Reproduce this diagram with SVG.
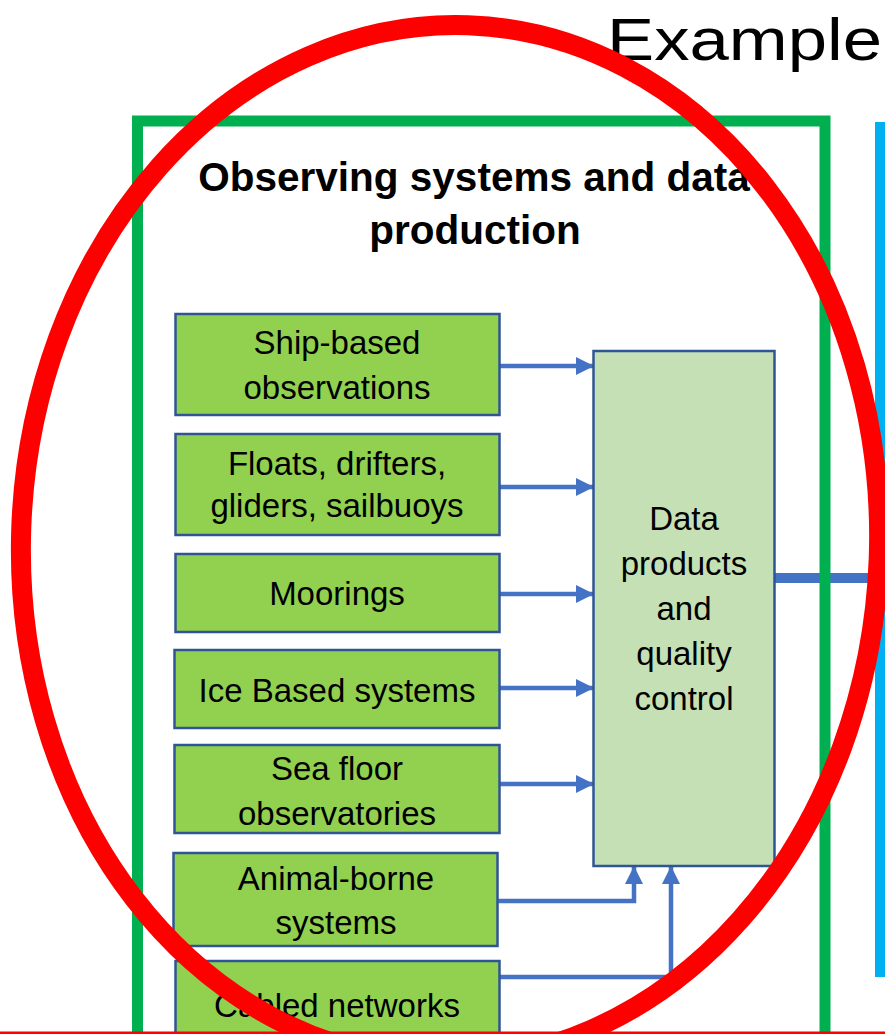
<svg xmlns="http://www.w3.org/2000/svg" width="885" height="1034" viewBox="0 0 885 1034">
<defs>
<style>
.box{fill:#92D050;stroke:#2F5597;stroke-width:2.5}
.dp{fill:#C5E0B4;stroke:#2F5597;stroke-width:2.5}
.t{font-family:"Liberation Sans",Arial,sans-serif;font-size:33px;fill:#000;text-anchor:middle}
.h{font-family:"Liberation Sans",Arial,sans-serif;font-size:40.5px;font-weight:bold;fill:#000;text-anchor:middle}
.c{fill:none;stroke:#4472C4;stroke-width:4.5}
</style>
<marker id="ah" markerUnits="userSpaceOnUse" markerWidth="18" markerHeight="18" refX="17" refY="9" orient="auto">
<path d="M0,0 L18,9 L0,18 Z" fill="#4472C4"/>
</marker>
</defs>
<rect width="885" height="1034" fill="#fff"/>
<text x="607" y="60" font-family="'Liberation Sans',Arial,sans-serif" font-size="60" textLength="275" lengthAdjust="spacingAndGlyphs" fill="#000">Example</text>
<rect x="875" y="122" width="10" height="855" fill="#00B0F0"/>
<g id="connectors">
<path class="c" d="M500,366 H593" marker-end="url(#ah)"/>
<path class="c" d="M500,487 H593" marker-end="url(#ah)"/>
<path class="c" d="M500,594 H593" marker-end="url(#ah)"/>
<path class="c" d="M500,688 H593" marker-end="url(#ah)"/>
<path class="c" d="M500,784 H593" marker-end="url(#ah)"/>
<path class="c" d="M497,901 H634 V867" marker-end="url(#ah)"/>
<path class="c" d="M499,977 H671 V867" marker-end="url(#ah)"/>
<path d="M775,578 H878" fill="none" stroke="#4472C4" stroke-width="10"/>
</g>
<g id="frame">
<rect x="137.5" y="121" width="687.5" height="1000" fill="none" stroke="#00B050" stroke-width="11"/>
<text class="h" x="474" y="191">Observing systems and data</text>
<text class="h" x="475" y="244">production</text>
</g>
<g id="ship"><rect class="box" x="175.5" y="314" width="324" height="101"/>
<text class="t" x="337" y="354">Ship-based</text><text class="t" x="337" y="399">observations</text></g>
<g id="floats"><rect class="box" x="175.5" y="434" width="324" height="101"/>
<text class="t" x="337" y="475">Floats, drifters,</text><text class="t" x="337" y="517">gliders, sailbuoys</text></g>
<g id="moorings"><rect class="box" x="175.5" y="554" width="324" height="78"/>
<text class="t" x="337" y="605">Moorings</text></g>
<g id="ice"><rect class="box" x="174.5" y="650" width="325" height="78"/>
<text class="t" x="337" y="702">Ice Based systems</text></g>
<g id="seafloor"><rect class="box" x="174.5" y="745" width="325" height="88"/>
<text class="t" x="337" y="780">Sea floor</text><text class="t" x="337" y="825">observatories</text></g>
<g id="animal"><rect class="box" x="173.5" y="853" width="324" height="93"/>
<text class="t" x="336" y="890">Animal-borne</text><text class="t" x="336" y="934">systems</text></g>
<g id="cabled"><rect class="box" x="175.5" y="961" width="324" height="90"/>
<text class="t" x="337" y="1017">Cabled networks</text></g>
<g id="dataproducts"><rect class="dp" x="593.5" y="351" width="181" height="515"/>
<text class="t" x="684" y="530">Data</text><text class="t" x="684" y="575">products</text><text class="t" x="684" y="620">and</text><text class="t" x="684" y="665">quality</text><text class="t" x="684" y="710">control</text></g>
<ellipse cx="450" cy="543" rx="429" ry="518" fill="none" stroke="#FF0000" stroke-width="20" transform="rotate(2 450 543)"/>
<rect x="0" y="1031.5" width="885" height="2.5" fill="#FF0000"/>
</svg>
